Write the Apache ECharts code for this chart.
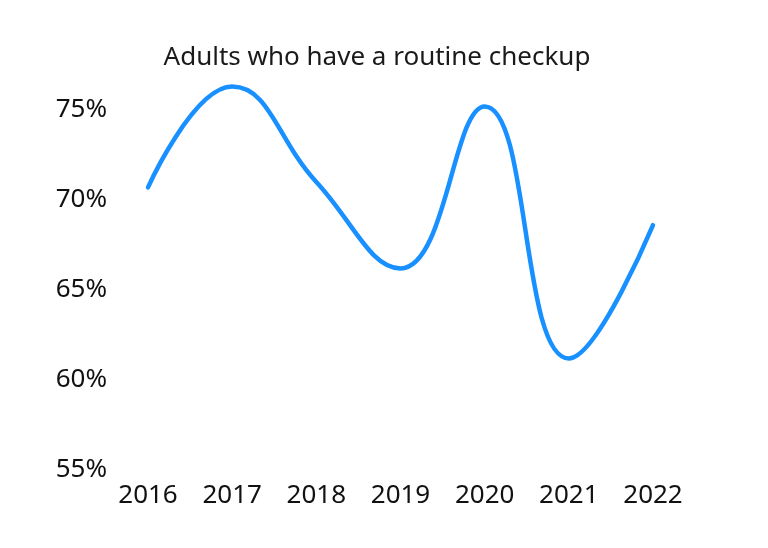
<!DOCTYPE html>
<html>
<head>
<meta charset="utf-8">
<script src="https://cdn.jsdelivr.net/npm/echarts@6/dist/echarts.min.js"></script>
<style>html,body{margin:0;padding:0;background:#fff;}#c{width:768px;height:548px;}</style>
</head>
<body>
<div id="c"></div>
<script>
const titleText = "Adults who have a routine checkup";
const years = ["2016", "2017", "2018", "2019", "2020", "2021", "2022"];
const values = [70.7, 76.3, 71.0, 66.2, 75.2, 61.2, 68.6];
const yMin = 55, yMax = 75, yStep = 5;

const chart = echarts.init(document.getElementById('c'));
chart.setOption({
  animation: false,
  backgroundColor: '#ffffff',
  title: {
    text: titleText,
    left: 372,
    textAlign: 'center',
    top: 40,
    textStyle: { fontFamily: 'Noto Sans', fontSize: 26, fontWeight: 'normal', color: '#1a1a1a' }
  },
  grid: { left: 148, right: 115, top: 110, bottom: 78 },
  xAxis: {
    type: 'category',
    data: years,
    boundaryGap: false,
    axisLine: { show: false },
    axisTick: { show: false },
    splitLine: { show: false },
    axisLabel: { margin: 13, fontFamily: 'Noto Sans', fontSize: 26, color: '#111111' }
  },
  yAxis: {
    type: 'value',
    min: yMin, max: yMax, interval: yStep,
    axisLine: { show: false },
    axisTick: { show: false },
    splitLine: { show: false },
    axisLabel: { margin: 41, padding: [4, 0, 0, 0], fontFamily: 'Noto Sans', fontSize: 26, color: '#111111', formatter: '{value}%' }
  },
  series: [{
    type: 'line',
    data: values,
    smooth: 0.45,
    clip: false,
    symbol: 'none',
    lineStyle: { color: '#1890ff', width: 4.5, cap: 'round' }
  }]
});
</script>
</body>
</html>
